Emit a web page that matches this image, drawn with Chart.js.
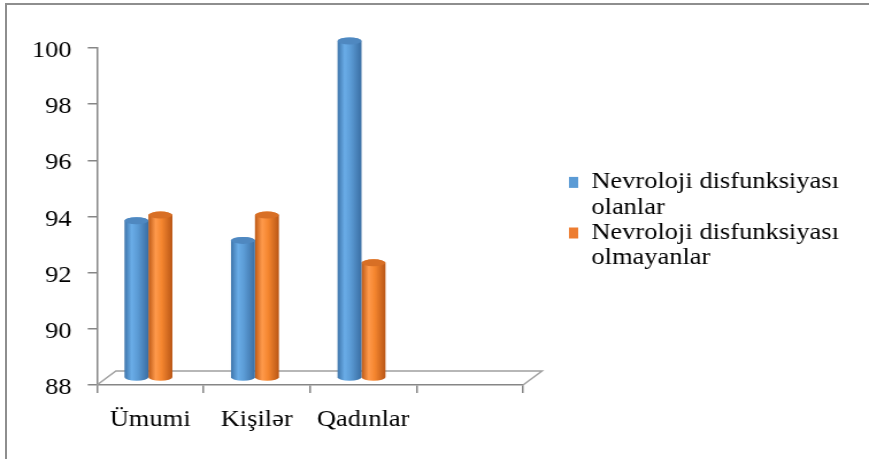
<!DOCTYPE html>
<html>
<head>
<meta charset="utf-8">
<script src="https://cdn.jsdelivr.net/npm/chart.js@4/dist/chart.umd.min.js"></script>
<style>
  html, body { margin: 0; padding: 0; background: #fff; overflow: hidden; }
  #frame {
    position: absolute; left: 5px; top: 3px; width: 880px; height: 470px;
    border-top: 2px solid #8e8e8e; border-left: 2px solid #8e8e8e;
  }
  #chart { position: absolute; left: 0; top: 0; }
</style>
</head>
<body>
<div id="frame"></div>
<!-- drawn narrow, shown wide: Times-style text comes out stretched -->
<canvas id="chart" width="756" height="459" style="width:869px;height:459px"></canvas>
<script>
const categories = ['Ümumi', 'Kişilər', 'Qadınlar', ''];
const seriesLines = [
    ['Nevroloji disfunksiyası', 'olanlar'],
    ['Nevroloji disfunksiyası', 'olmayanlar']
];
const withDysfunction = [93.6, 92.9, 100];
const withoutDysfunction = [93.8, 93.8, 92.1];
const yTickValues = [88, 90, 92, 94, 96, 98, 100];

const axisGray = '#868686';
const shades = [
    { edge: '#3d74aa', light: '#6aade8', mid: '#5b9bd5', dark: '#3a6ea3', top: '#4f88c0', flat: '#5b9bd5' },
    { edge: '#bd5915', light: '#ff9a4c', mid: '#f5862f', dark: '#b95616', top: '#d86f25', flat: '#ed7d31' }
];
const depthX = -1.5, depthY = -7, rimY = 3.5;

Chart.defaults.font.family = "'Liberation Serif', 'Times New Roman', serif";
Chart.defaults.font.size = 23;
Chart.defaults.font.lineHeight = 1.1;
Chart.defaults.color = '#000';

function drawCylinder(ctx, cx, top, bottom, w, c) {
    const l = cx - w / 2, r = cx + w / 2;
    const g = ctx.createLinearGradient(l, 0, r, 0);
    g.addColorStop(0, c.edge);
    g.addColorStop(0.3, c.light);
    g.addColorStop(0.55, c.mid);
    g.addColorStop(1, c.dark);
    ctx.save();
    ctx.beginPath();
    ctx.moveTo(l, top);
    ctx.lineTo(l, bottom);
    ctx.ellipse(cx, bottom, w / 2, rimY, 0, Math.PI, 0, true);
    ctx.lineTo(r, top);
    ctx.ellipse(cx, top, w / 2, rimY, 0, 0, Math.PI, true);
    ctx.closePath();
    ctx.fillStyle = g;
    ctx.fill();
    ctx.beginPath();
    ctx.ellipse(cx, top, w / 2, rimY, 0, 0, Math.PI * 2);
    ctx.fillStyle = c.top;
    ctx.fill();
    ctx.restore();
}

// cylinders instead of flat bars, placed from the bar elements
const cylinders = {
    id: 'cylinders',
    beforeDatasetDraw(chart, args) {
        const c = shades[args.index];
        args.meta.data.forEach(bar => {
            const p = bar.getProps(['x', 'y', 'base', 'width'], true);
            if (p.y == null || isNaN(p.y)) return;
            drawCylinder(chart.ctx, p.x + depthX, p.y + depthY, p.base + depthY, p.width, c);
        });
        return false;
    }
};

// back edge of the floor
const floor = {
    id: 'floor',
    beforeDatasetsDraw(chart) {
        const { ctx, chartArea } = chart;
        const dx = 16.5, dy = -14;
        const b = chartArea.bottom, l = chartArea.left, r = chartArea.right;
        ctx.save();
        ctx.strokeStyle = '#a0a0a0';
        ctx.lineWidth = 1.5;
        ctx.beginPath();
        ctx.moveTo(l, b);
        ctx.lineTo(l + dx, b + dy);
        ctx.lineTo(r + dx, b + dy);
        ctx.lineTo(r, b);
        ctx.stroke();
        ctx.restore();
    }
};

new Chart(document.getElementById('chart'), {
    type: 'bar',
    data: {
        labels: categories,
        datasets: [
            { label: seriesLines[0].join(' '), data: withDysfunction, backgroundColor: shades[0].flat, base: yTickValues[0] },
            { label: seriesLines[1].join(' '), data: withoutDysfunction, backgroundColor: shades[1].flat, base: yTickValues[0] }
        ]
    },
    options: {
        responsive: false,
        animation: false,
        devicePixelRatio: 1,
        categoryPercentage: 0.45,
        barPercentage: 1,
        layout: { padding: { top: 48, left: 28, right: 25, bottom: 22 } },
        scales: {
            x: {
                grid: { offset: true, drawOnChartArea: false, tickLength: 8, color: axisGray, lineWidth: 1.5 },
                border: { color: axisGray, width: 1.5 },
                ticks: { padding: 14 },
                afterFit(s) { s.height = 52; }
            },
            y: {
                min: yTickValues[0],
                max: yTickValues[yTickValues.length - 1],
                ticks: { stepSize: yTickValues[1] - yTickValues[0], padding: 14, labelOffset: 3 },
                grid: { drawOnChartArea: false, tickLength: 8, color: axisGray, lineWidth: 1.5 },
                border: { color: axisGray, width: 1.5 },
                afterFit(s) { s.width = 56.3; }
            },
            gap: {
                type: 'linear',
                position: 'right',
                grid: { display: false },
                border: { display: false },
                ticks: { display: false },
                afterFit(s) { s.width = 40; }
            }
        },
        plugins: {
            tooltip: { enabled: false },
            legend: {
                position: 'right',
                fullSize: false,
                maxWidth: 236,
                // empty title only pushes the entries a little lower
                title: { display: true, text: '', font: { size: 10, lineHeight: 1 }, padding: 0 },
                labels: {
                    boxWidth: 8,
                    boxHeight: 11,
                    padding: 0,
                    generateLabels(chart) {
                        const items = Chart.defaults.plugins.legend.labels.generateLabels(chart);
                        items.forEach(item => {
                            item.text = seriesLines[item.datasetIndex];
                            item.lineWidth = 0;
                        });
                        return items;
                    }
                }
            }
        }
    },
    plugins: [floor, cylinders]
});
</script>
</body>
</html>
